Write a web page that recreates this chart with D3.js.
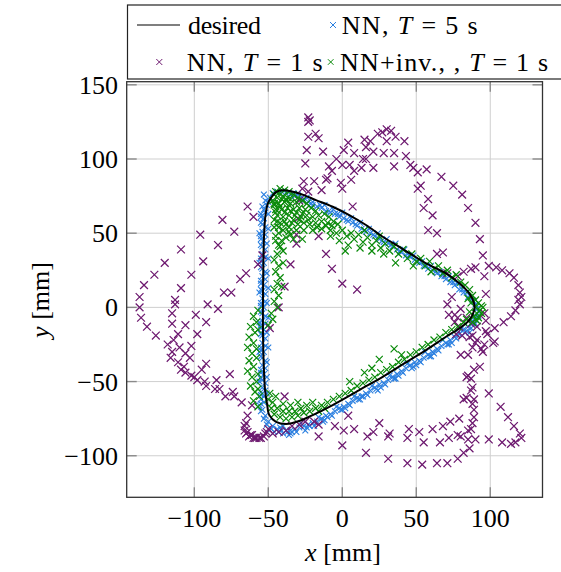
<!DOCTYPE html>
<html><head><meta charset="utf-8">
<script src="https://cdn.jsdelivr.net/npm/d3@7"></script>
<style>body{margin:0;background:#fff}</style>
</head><body><svg id="c" width="561" height="572"></svg>
<script>
const xTicks=[-100,-50,0,50,100];
const yTicks=[-100,-50,0,50,100,150];
const xDomain=[-145.7,135.3];
const yDomain=[-128.0,152.1];

const desired=[[89.0,2.9],[85.8,9.4],[79.1,16.2],[70.1,22.9],[56.6,29.6],[47.5,35.2],[38.5,40.8],[27.3,47.6],[16.0,55.5],[4.7,62.2],[-6.5,67.8],[-17.8,72.3],[-29.1,76.8],[-40.3,79.0],[-44.8,77.7],[-47.7,74.5],[-50.2,70.3],[-51.9,62.2],[-52.9,47.6],[-53.4,25.1],[-53.6,4.9],[-53.6,-15.3],[-53.2,-35.5],[-52.2,-55.7],[-50.9,-64.7],[-49.3,-72.6],[-44.8,-77.1],[-38.0,-78.6],[-29.1,-76.6],[-20.0,-72.6],[-6.5,-65.8],[11.5,-55.7],[27.3,-46.8],[41.9,-37.7],[56.6,-28.8],[70.1,-19.8],[79.1,-14.2],[85.8,-8.6],[89.2,-1.8]];

const nnT5=[[-55,-62],[-53,-60],[-55,-57],[-54,-54],[-52,-51],[-55,-48],[-53,-45],[-55,-42],[-54,-39],[-52,-36],[-55,-33],[-53,-30],[-55,-27],[-54,-24],[-52,-21],[-55,-18],[-53,-15],[-55,-12],[-54,-9],[-52,-6],[-55,-3],[-53,0],[-55,3],[-54,6],[-52,9],[-55,12],[-53,15],[-55,18],[-54,21],[-52,24],[-55,27],[-53,30],[-55,33],[-54,36],[-52,39],[-55,42],[-53,45],[-55,48],[-54,51],[-52,54],[-55,57],[-53,60],[-55,63],[-53,66],[-51,69],[-52,72],[-49,74],[-53,76],
[-47,77],[-44,78],[-41,78],[-38,77],[-35,76],[-32,75],
[-29,73],[-26,72],[-23,71],[-20,69],[-17,68],[-14,67],[-11,65],[-8,64],[-5,63],[-2,61],[1,60],[4,58],[7,57],[10,55],[13,53],[16,51],[19,50],[22,48],[25,46],[28,44],[31,43],[34,41],[37,39],[40,37],[43,35],[46,34],[49,32],[52,30],[55,28],[58,26],[61,25],[64,23],[67,21],[70,19],[73,17],[76,15],[79,12],[82,10],[85,7],[88,5],[90,2],[91,-1],[92,-3],[90,-6],[88,-9],
[85,-13],[82,-15],[79,-18],[76,-20],[73,-22],[70,-24],[67,-26],[64,-28],[61,-30],[58,-32],[55,-34],[52,-36],[49,-37],[46,-39],[43,-41],[40,-43],[37,-45],[34,-47],[31,-49],[28,-51],[25,-52],[22,-54],[19,-56],[16,-58],[13,-60],[10,-61],[7,-63],[4,-65],[1,-67],[-2,-68],[-5,-70],[-8,-72],[-11,-73],[-14,-75],[-17,-77],[-20,-78],[-23,-79],[-26,-80],[-29,-81],[-32,-82],[-35,-83],[-38,-83],[-41,-83],[-44,-82],[-47,-80],[-50,-77],[-52,-73],[-54,-69],[-55,-65],[-40,-85],[-35,-85],
[-51,-58],[-51,-47],[-51,-37],[-50,-27],[-51,-17],[-50,-7],[-51,3],[-50,13],[-51,23],[-50,33],[-51,43],[-50,53],[-50,63],[-56,-50],[-56,-30],[-56,-10],[-56,10],[-56,30],[-56,50],
[-24,74],[-12,69],[0,64],[12,57],[24,50],[36,43],[48,35],[60,28],[72,21],[84,10],[-20,71],[-6,66],[6,60],[18,53],[30,46],[42,39],[54,31],[66,24],[78,16],
[88,-11],[80,-15],[68,-22],[56,-30],[44,-38],[32,-46],[20,-53],[8,-60],[-4,-67],[-16,-74],[-28,-78],[-40,-80],[84,-16],[72,-25],[60,-33],[48,-40],[36,-48],[24,-56],[12,-62],[0,-69],[-12,-76],[-24,-81],[-36,-86],[-46,-84],
[-53,-64],[-55,-59],[-52,-56],[-54,-49],[-55,-44],[-52,-41],[-54,-34],[-55,-29],[-52,-26],[-54,-19],[-55,-14],[-52,-11],[-54,-4],[-55,1],[-52,4],[-54,11],[-55,16],[-52,19],[-54,26],[-55,31],[-52,34],[-54,41],[-55,46],[-52,49],[-54,56],[-55,61],[-52,64],[-54,68],[-50,71],
[-27,74],[-15,69],[-3,63],[9,56],[21,49],[33,42],[45,35],[57,28],[69,21],[81,12],[-21,70],[-9,65],[3,59],[15,52],[27,45],[39,38],[51,31],[63,24],[75,17],[87,7],[89,4],[-33,77],[-30,76],
[92,-6],[90,-11],[87,-14],[83,-17],[77,-21],[71,-25],[65,-29],[59,-33],[53,-37],[47,-41],[41,-44],[35,-48],[29,-52],[23,-55],[17,-59],[11,-62],[5,-66],[-1,-69],[-7,-73],[-13,-77],[-19,-80],[-25,-83],[-31,-84],[-37,-84],[-43,-84],[-48,-82],[-51,-79],[-53,-75],[-55,-70],[-56,-66],[86,-17],[74,-24],[62,-31],[50,-39],[38,-46],[26,-54],[14,-60],[2,-68],[-10,-74],[-22,-80],[-34,-84],[-42,-81]];

const nnT1=[[-64,68],[-60,61],[-81,59],[-73,51],[-96,49],[-84,42],[-109,39],[-94,31],[-120,30],[-102,22],[-127,22],[-65,23],[-69,19],[-57,29],[-54,35],[-134,15],[-109,13],[-80,10],[-75,10],[-137,7],[-113,5],
[-137,0],[-113,2],[-91,2],[-84,-1],[-115,-4],[-99,-5],[-136,-7],[-92,-10],[-115,-11],[-106,-12],[-132,-13],[-126,-19],[-111,-18],[-98,-18],[-114,-22],[-118,-25],[-110,-27],[-102,-26],[-115,-30],[-106,-31],[-103,-34],[-116,-34],[-111,-37],[-92,-38],[-107,-40],[-95,-42],[-109,-42],[-106,-44],[-102,-46],[-76,-45],[-100,-47],[-98,-49],[-93,-50],[-85,-49],[-92,-53],[-86,-55],[-83,-55],[-79,-60],[-74,-57],[-73,-60],[-68,-64],[-61,-66],[-64,-73],[-65,-78],[-66,-83],
[-65,-85],[-63,-87],[-60,-88],[-58,-88],[-55,-88],[-53,-87],[-66,-80],[-64,-84],[-62,-86],[-59,-88],[-56,-88],[-51,-84],[-50,-82],[-61,-86],
[-23,128],[-22,126],[-23,125],[-23,115],[-18,117],[-16,114],[-24,106],[-13,105],[-25,97],[-9,95],[-7,92],[-10,87],[-11,86],[-26,85],[-19,85],[-27,80],[-14,79],[-1,84],[0,80],[6,86],[-4,100],[1,106],[4,111],[8,104],[15,113],[16,108],[19,112],[21,105],[14,100],[16,100],[0,96],[5,96],[8,92],[13,94],[21,94],[24,117],[27,118],[33,119],[36,115],[30,112],[28,104],[35,104],[35,95],[30,120],[42,112],[43,102],[7,68],[-29,72],[-23,78],[-31,49],[-31,43],[-16,48],[-11,36],[-35,29],[-7,26],[-39,14],[0,16],[10,12],[-30,60],
[46,96],[48,94],[51,91],[57,93],[67,88],[75,82],[81,76],[85,67],[90,57],[93,46],[95,35],[96,21],[97,9],[53,82],[51,80],[58,73],[55,67],[61,62],[58,52],[64,50],[64,36],[68,37],[71,23],[78,21],[82,24],[87,26],[90,27],[99,28],[104,27],[108,25],[113,23],[116,20],[119,15],[120,10],[121,7],
[119,5],[120,2],[117,-2],[114,-6],[109,-10],[103,-14],[96,-4],[97,-9],[97,-16],[98,-18],[103,-23],[102,-24],[96,-25],[94,-28],[95,-30],[71,2],[72,-5],[76,-5],[78,-7],[76,-10],[79,-13],[77,-18],[81,-19],[86,-20],[88,-19],[80,-32],[85,-32],[91,-22],[90,-24],[88,-27],[93,-40],[89,-42],[85,-46],[87,-48],[84,-47],[88,-54],[87,-56],[84,-61],[82,-62],[89,-62],[88,-65],[99,-58],[107,-67],[112,-74],[116,-80],[120,-85],[121,-88],[117,-91],[114,-92],[108,-91],[99,-89],[89,-69],[89,-74],[88,-78],[87,-82],[85,-83],[90,-89],[85,-89],[79,-75],[73,-77],[68,-80],[61,-82],[78,-86],[80,-87],[72,-88],[66,-91],[55,-91],[52,-84],[45,-82],[44,-88],[86,-95],[82,-98],[78,-102],[71,-105],[64,-105],[54,-106],[44,-105],[74,7],[80,-1],[84,-7],[87,-11],[91,-13],
[-43,0],[-49,-14],[-39,-60],[-52,-85],[4,-73],[-16,-79],[-5,-80],[1,-83],[8,-82],[-16,-87],[0,-93],[16,-98],[17,-87],[21,-84],[25,-78],[31,-87],[32,-85],[31,-102],[-19,-77],[-47,-85],[-43,-84],[-38,-83],[-34,-80],[-29,-79],[-25,-77]];

const nnInvT1=[[-45,78],[-42,80],[-39,79],[-36,78],[-44,74],[-40,75],[-37,74],[-33,76],[-30,74],[-47,72],[-43,70],[-39,71],[-35,70],[-31,71],[-27,72],[-24,70],[-45,66],[-41,66],[-37,67],[-33,66],[-29,67],[-25,66],[-21,67],[-18,65],[-44,62],[-40,61],[-36,62],[-32,62],[-28,61],[-24,62],[-20,61],[-16,62],[-12,63],[-9,61],[-42,57],[-38,56],[-34,57],[-30,56],[-26,57],[-22,56],[-18,57],[-14,58],[-10,57],[-6,58],[-3,56],[-40,52],[-36,51],[-31,52],[-26,52],[-20,52],[-14,53],[-8,52],[-4,50],[0,52],[-38,47],[-33,46],[-27,46],[-2,45],[3,48],[6,50],[-43,42],[-40,38],
[-46,76],[-43,77],[-41,73],[-38,72],[-35,73],[-46,69],[-42,68],[-39,64],[-35,65],[-31,64],[-27,63],[-46,59],[-43,54],[-39,58],[-36,54],[-33,59],[-29,59],[-45,48],[-41,45],[-35,49],[-23,59],[-11,55],[-17,54],[-7,55],
[-46,70],[-45,64],[-44,58],[-46,54],[-43,50],[-45,45],[-42,41],[-44,36],[-46,32],[-43,28],[-45,24],[-42,20],[-44,16],[-46,12],[-43,8],[-40,30],[-41,14],[-46,4],[-44,0],[-48,-4],[-47,-8],[-50,-12],
[8,46],[11,49],[14,44],[17,47],[20,42],[23,45],[26,40],[29,43],[32,38],[35,41],[38,36],[41,39],[44,33],[47,36],[50,31],[53,33],[56,28],[59,31],[62,26],[65,28],[68,23],[71,25],[74,20],[77,22],[80,17],[83,15],[86,12],[4,42],[12,40],[20,38],[28,36],[-8,48],[2,38],[36,30],[48,28],[60,24],[15,52],[25,48],
[88,8],[90,5],[92,3],[94,1],[93,-2],[91,-4],[89,-6],[92,-7],[94,-4],[95,0],[90,0],[87,3],[86,-3],[84,-8],[88,-10],[91,-9],[85,6],
[82,-10],[78,-13],[74,-15],[70,-17],[66,-20],[62,-22],[58,-25],[54,-27],[50,-30],[46,-32],[42,-35],[38,-37],[34,-40],[30,-42],[26,-44],[22,-47],[18,-49],[14,-51],[10,-53],[6,-56],[2,-58],[-2,-60],[-6,-62],[-10,-64],[-14,-66],[-18,-68],[35,-28],[25,-35],[15,-44],[5,-50],[40,-32],[20,-41],
[-22,-70],[-26,-71],[-30,-73],[-34,-74],[-38,-75],[-42,-74],[-46,-72],[-48,-68],[-24,-66],[-28,-68],[-32,-70],[-36,-70],[-40,-70],[-44,-68],[-47,-64],[-30,-64],[-35,-66],[-40,-65],[-45,-60],[-49,-58],[-50,-62],[-20,-64],[-16,-70],[-12,-68],
[-57,-2],[-60,-6],[-58,-10],[-62,-13],[-59,-17],[-63,-20],[-60,-24],[-64,-27],[-61,-31],[-58,-34],[-63,-36],[-60,-40],[-64,-43],[-61,-47],[-58,-50],[-62,-53],[-59,-57],[-56,-60],[-60,-63],[-57,-67],[-57,-45],[-58,-28],[-57,-15],[-57,-55]];

const colors={desired:"#000000",nnT5:"#2a7fe0",nnT1:"#6e1a70",nnInv:"#0a8a0a"};

const svg=d3.select("#c");
const FONT="'Liberation Serif','Times New Roman',serif";
const L=126.7,R=542.5,T=81.7,B=497.3;
const x=d3.scaleLinear().domain(xDomain).range([L,R]);
const y=d3.scaleLinear().domain(yDomain).range([B,T]);

const g=svg.append("g");
g.selectAll(".gx").data(xTicks).join("line").attr("x1",d=>x(d)).attr("x2",d=>x(d)).attr("y1",T).attr("y2",B).attr("stroke","#cfcfcf").attr("stroke-width",1);
g.selectAll(".gy").data(yTicks).join("line").attr("y1",d=>y(d)).attr("y2",d=>y(d)).attr("x1",L).attr("x2",R).attr("stroke","#cfcfcf").attr("stroke-width",1);

svg.append("clipPath").attr("id","clip").append("rect").attr("x",L).attr("y",T).attr("width",R-L).attr("height",B-T);
const plot=svg.append("g").attr("clip-path","url(#clip)");

function cross(h){return `M${-h},${-h}L${h},${h}M${-h},${h}L${h},${-h}`;}
function scatter(data,color,h,w){
  plot.append("g").selectAll("path").data(data).join("path")
   .attr("d",cross(h)).attr("transform",d=>`translate(${x(d[0])},${y(d[1])})`)
   .attr("fill","none").attr("stroke",color).attr("stroke-width",w);
}
scatter(nnT5,colors.nnT5,2.9,1.1);
scatter(nnT1,colors.nnT1,3.9,1.25);
scatter(nnInvT1,colors.nnInv,3.5,1.2);
plot.append("path").datum(desired)
  .attr("d",d3.line().x(d=>x(d[0])).y(d=>y(d[1])).curve(d3.curveCatmullRomClosed.alpha(0.5)))
  .attr("fill","none").attr("stroke","#000").attr("stroke-width",2);

const tk=svg.append("g").attr("stroke","#8a8a8a").attr("stroke-width",1.4);
xTicks.forEach(t=>{tk.append("line").attr("x1",x(t)).attr("x2",x(t)).attr("y1",B).attr("y2",B-10);
  tk.append("line").attr("x1",x(t)).attr("x2",x(t)).attr("y1",T).attr("y2",T+10);});
yTicks.forEach(t=>{tk.append("line").attr("y1",y(t)).attr("y2",y(t)).attr("x1",L).attr("x2",L+10);
  tk.append("line").attr("y1",y(t)).attr("y2",y(t)).attr("x1",R).attr("x2",R-10);});

svg.append("rect").attr("x",L).attr("y",T).attr("width",R-L).attr("height",B-T).attr("fill","none").attr("stroke","#333").attr("stroke-width",1.3);

const fmt=d=>d<0?"\u2212"+Math.abs(d):String(d);
svg.append("g").selectAll("text").data(xTicks).join("text").attr("x",d=>x(d)).attr("y",527)
  .attr("text-anchor","middle").attr("font-family",FONT).attr("font-size",26).text(fmt);
svg.append("g").selectAll("text").data(yTicks).join("text").attr("x",118).attr("y",d=>y(d)+9)
  .attr("text-anchor","end").attr("font-family",FONT).attr("font-size",26).text(fmt);

const xl=svg.append("text").attr("x",343).attr("y",561).attr("text-anchor","middle").attr("font-family",FONT).attr("font-size",26);
xl.append("tspan").attr("font-style","italic").text("x");xl.append("tspan").text(" [mm]");
const yl=svg.append("text").attr("transform","translate(49,300) rotate(-90)").attr("text-anchor","middle").attr("font-family",FONT).attr("font-size",26);
yl.append("tspan").attr("font-style","italic").text("y");yl.append("tspan").text(" [mm]");

const lg=svg.append("g");
lg.append("rect").attr("x",127.5).attr("y",5).attr("width",445).attr("height",74).attr("fill","#fff").attr("stroke","#222").attr("stroke-width",1.2);
lg.append("line").attr("x1",137).attr("x2",180).attr("y1",25).attr("y2",25).attr("stroke","#000").attr("stroke-width",1.2);
function lcross(cx,cy,color,h){lg.append("path").attr("d",cross(h)).attr("transform",`translate(${cx},${cy})`).attr("fill","none").attr("stroke",color).attr("stroke-width",1);}
lcross(333,25,colors.nnT5,3);
lcross(159.3,62,colors.nnT1,3);
lcross(330.7,62,colors.nnInv,2.8);
function ltext(xx,yy,parts,len){
  const t=lg.append("text").attr("x",xx).attr("y",yy).attr("font-family",FONT).attr("font-size",26);
  if(len) t.attr("textLength",len).attr("lengthAdjust","spacing");
  parts.forEach(p=>{const s=t.append("tspan").text(p[0]); if(p[1]) s.attr("font-style","italic");});
}
ltext(188,34,[["desired"]],73);
ltext(341.7,34,[["NN, "],["T",1],[" = 5 s"]],136);
ltext(186.7,70.5,[["NN, "],["T",1],[" = 1 s"]],136);
ltext(340,70.5,[["NN+inv., , "],["T",1],[" = 1 s"]],208);
</script></body></html>
